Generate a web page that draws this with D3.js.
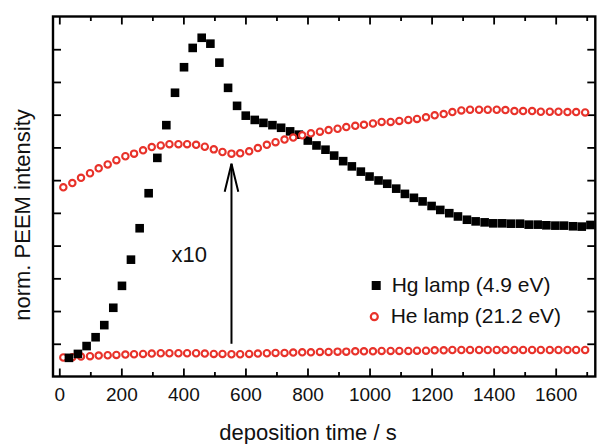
<!DOCTYPE html>
<html>
<head>
<meta charset="utf-8">
<script src="https://cdn.jsdelivr.net/npm/d3@7"></script>
<style>
  html, body { margin: 0; padding: 0; background: #fff; }
  svg { display: block; font-family: "Liberation Sans", Arial, sans-serif; }
</style>
</head>
<body>
<svg id="chart" width="597" height="444"></svg>
<script>
// ---- data ----
const xMajorTicks = [0, 200, 400, 600, 800, 1000, 1200, 1400, 1600];
const xMinorTicks = [100, 300, 500, 700, 900, 1100, 1300, 1500, 1700];
const yTicks = [1, 2, 3, 4, 5, 6, 7, 8, 9, 10];

const hgTime = [31, 60, 88, 117, 145, 174, 202, 231, 259, 288, 316, 345, 373, 402, 430, 459, 487, 516, 544, 573,
  601, 630, 658, 687, 715, 744, 772, 801, 829, 858, 886, 915, 943, 972, 1000, 1029, 1057, 1086, 1114, 1143,
  1171, 1200, 1228, 1257, 1285, 1314, 1342, 1371, 1399, 1428, 1456, 1485, 1513, 1542, 1570, 1599, 1627, 1656, 1684, 1712];
const hgValue = [0.57, 0.69, 0.93, 1.20, 1.57, 2.10, 2.77, 3.57, 4.53, 5.60, 6.68, 7.68, 8.67, 9.45, 10.04, 10.35, 10.17, 9.59, 8.82, 8.27,
  7.97, 7.84, 7.75, 7.68, 7.60, 7.49, 7.39, 7.21, 7.06, 6.93, 6.75, 6.58, 6.42, 6.26, 6.11, 5.99, 5.89, 5.74, 5.58, 5.46,
  5.35, 5.21, 5.09, 4.99, 4.89, 4.79, 4.74, 4.71, 4.68, 4.68, 4.67, 4.67, 4.64, 4.64, 4.62, 4.61, 4.61, 4.59, 4.58, 4.63];

const heTime = [13, 42, 70, 99, 127, 156, 184, 213, 241, 270, 298, 327, 355, 384, 412, 441, 469, 498, 526, 555,
  583, 612, 640, 669, 697, 726, 754, 783, 811, 840, 868, 897, 925, 954, 982, 1011, 1039, 1068, 1096, 1125,
  1153, 1182, 1210, 1239, 1267, 1296, 1324, 1353, 1381, 1410, 1438, 1467, 1495, 1524, 1552, 1581, 1609, 1638, 1666, 1695];
// He lamp signal as measured (lower curve)
const heValue = [0.58, 0.59, 0.61, 0.62, 0.64, 0.65, 0.66, 0.67, 0.68, 0.69, 0.70, 0.71, 0.71, 0.71, 0.71, 0.71, 0.70, 0.69, 0.69, 0.68,
  0.68, 0.69, 0.70, 0.71, 0.72, 0.72, 0.73, 0.74, 0.74, 0.75, 0.75, 0.76, 0.76, 0.77, 0.77, 0.77, 0.78, 0.78, 0.78, 0.78,
  0.79, 0.79, 0.80, 0.80, 0.81, 0.81, 0.81, 0.81, 0.81, 0.81, 0.81, 0.81, 0.81, 0.81, 0.81, 0.81, 0.81, 0.81, 0.81, 0.81];
// He lamp signal multiplied by 10 (upper curve)
const heValueX10 = [5.78, 5.91, 6.07, 6.21, 6.36, 6.48, 6.61, 6.73, 6.81, 6.91, 7.01, 7.06, 7.10, 7.10, 7.10, 7.08, 7.02, 6.94, 6.86, 6.81,
  6.82, 6.88, 6.98, 7.08, 7.16, 7.24, 7.30, 7.37, 7.43, 7.48, 7.53, 7.57, 7.62, 7.66, 7.69, 7.73, 7.78, 7.78, 7.81, 7.84,
  7.87, 7.92, 7.98, 8.02, 8.08, 8.13, 8.15, 8.15, 8.15, 8.15, 8.14, 8.11, 8.11, 8.11, 8.09, 8.09, 8.09, 8.08, 8.08, 8.07];

const legendLabels = ["Hg lamp (4.9 eV)", "He lamp (21.2 eV)"];
const xTitle = "deposition time / s";
const yTitle = "norm. PEEM intensity";
const factorLabel = "x10";
const arrowTime = 555, arrowFrom = 1.0, arrowTo = 6.5;
const factorPos = { t: 362, v: 3.5 };

// ---- layout ----
const L = 53, R = 595.3, T = 16.5, B = 376.5;
const RED = "#e8322a";

const svg = d3.select("#chart");
const x = d3.scaleLinear().domain([-20.3, 1727.7]).range([L, R]);
const y = d3.scaleLinear().domain([0, 11]).range([B, T]);

function styleAxis(g) {
  g.select(".domain").remove();
  g.selectAll(".tick line").attr("stroke", "#000").attr("stroke-width", 1.8);
  g.selectAll(".tick text").attr("fill", "#111").style("font-family", "Liberation Sans, Arial, sans-serif");
}

// bottom axis (major with labels, minor)
svg.append("g").attr("transform", `translate(0,${B})`)
  .call(d3.axisBottom(x).tickValues(xMajorTicks).tickSize(-8).tickPadding(11).tickFormat(d3.format("d")))
  .call(g => { styleAxis(g); g.selectAll(".tick text").style("font-size", "19px"); });
svg.append("g").attr("transform", `translate(0,${B})`)
  .call(d3.axisBottom(x).tickValues(xMinorTicks).tickSize(-4.5).tickFormat(""))
  .call(styleAxis);
// top axis
svg.append("g").attr("transform", `translate(0,${T})`)
  .call(d3.axisTop(x).tickValues(xMajorTicks).tickSize(-8).tickFormat(""))
  .call(styleAxis);
svg.append("g").attr("transform", `translate(0,${T})`)
  .call(d3.axisTop(x).tickValues(xMinorTicks).tickSize(-4.5).tickFormat(""))
  .call(styleAxis);
// left / right
svg.append("g").attr("transform", `translate(${L},0)`)
  .call(d3.axisLeft(y).tickValues(yTicks).tickSize(-8).tickFormat(""))
  .call(styleAxis);
svg.append("g").attr("transform", `translate(${R},0)`)
  .call(d3.axisRight(y).tickValues(yTicks).tickSize(-8).tickFormat(""))
  .call(styleAxis);

// frame
svg.append("rect").attr("x", L).attr("y", T).attr("width", R - L).attr("height", B - T)
  .attr("fill", "none").attr("stroke", "#000").attr("stroke-width", 2.4);

// axis titles
svg.append("text").attr("x", 308).attr("y", 440).attr("text-anchor", "middle")
  .style("font-size", "22px").attr("fill", "#111").text(xTitle);
svg.append("text").attr("transform", "translate(30,215) rotate(-90)").attr("text-anchor", "middle")
  .style("font-size", "22px").attr("fill", "#111").text(yTitle);

const plot = svg.append("g");
const SQ = 8.6, CR = 3.2;

// lower He curve
plot.selectAll("circle.helow").data(heTime.map((t, i) => [t, heValue[i]])).join("circle")
  .attr("class", "helow").attr("cx", d => x(d[0])).attr("cy", d => y(d[1])).attr("r", CR)
  .attr("fill", "#fff").attr("stroke", RED).attr("stroke-width", 2.1);

// Hg squares
plot.selectAll("rect.hg").data(hgTime.map((t, i) => [t, hgValue[i]])).join("rect")
  .attr("class", "hg").attr("x", d => x(d[0]) - SQ / 2).attr("y", d => y(d[1]) - SQ / 2)
  .attr("width", SQ).attr("height", SQ).attr("fill", "#000");

// upper He curve (x10)
plot.selectAll("circle.heup").data(heTime.map((t, i) => [t, heValueX10[i]])).join("circle")
  .attr("class", "heup").attr("cx", d => x(d[0])).attr("cy", d => y(d[1])).attr("r", CR)
  .attr("fill", "#fff").attr("stroke", RED).attr("stroke-width", 2.1);

// arrow
const ax = x(arrowTime), ay0 = y(arrowFrom), ay1 = y(arrowTo);
svg.append("line").attr("x1", ax).attr("x2", ax).attr("y1", ay0).attr("y2", ay1)
  .attr("stroke", "#000").attr("stroke-width", 2);
svg.append("path").attr("d", `M${ax - 6.8},${ay1 + 28} L${ax},${ay1} L${ax + 6.8},${ay1 + 28}`)
  .attr("fill", "none").attr("stroke", "#000").attr("stroke-width", 2);

svg.append("text").attr("x", x(factorPos.t)).attr("y", y(factorPos.v))
  .style("font-size", "22px").attr("fill", "#111").text(factorLabel);

// legend
const lg = svg.append("g");
lg.append("rect").attr("x", 376.2 - 4.5).attr("y", 285.5 - 4.5).attr("width", 9).attr("height", 9).attr("fill", "#000");
lg.append("text").attr("x", 391.7).attr("y", 291.7).style("font-size", "21px").attr("fill", "#111").text(legendLabels[0]);
lg.append("circle").attr("cx", 374.3).attr("cy", 316.7).attr("r", 3.5)
  .attr("fill", "#fff").attr("stroke", RED).attr("stroke-width", 2.2);
lg.append("text").attr("x", 390.7).attr("y", 323.3).style("font-size", "21px").attr("fill", "#111").text(legendLabels[1]);
</script>
</body>
</html>
